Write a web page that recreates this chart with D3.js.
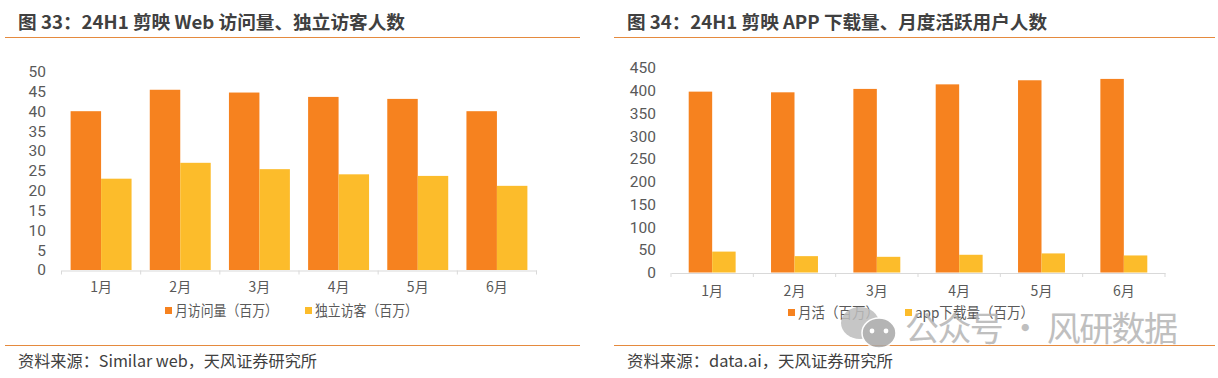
<!DOCTYPE html>
<html><head><meta charset="utf-8">
<script src="https://cdn.jsdelivr.net/npm/d3@7"></script>
<style>html,body{margin:0;padding:0;background:#fff}svg{display:block}
text{font-family:"Noto Sans CJK SC","Noto Sans",sans-serif}</style></head>
<body><svg id="c" width="1218" height="378"></svg>
<script>
const months=["1月","2月","3月","4月","5月","6月"];
const webVisits=[40,45.4,44.7,43.6,43.1,40];
const webUnique=[23,27,25.4,24.1,23.7,21.2];
const appMau=[398,396.5,404,414,423,426];
const appDownloads=[46,36,34.5,39,42,37.5];
const webTicks=[0,5,10,15,20,25,30,35,40,45,50];
const appTicks=[0,50,100,150,200,250,300,350,400,450];
const ORANGE="#F6821F",YELLOW="#FCBC2B",RULE="#E58A3E",TXT="#595959",HEAD="#404040";
const svg=d3.select("#c");

function panel(o){
  const g=svg.append("g");
  g.append("text").attr("x",o.titleX).attr("y",29).attr("font-size",18).attr("font-weight",700)
    .attr("fill",HEAD).attr("textLength",o.titleLen).attr("lengthAdjust","spacingAndGlyphs").text(o.title);
  [37.5,345.5].forEach(y=>g.append("line").attr("x1",o.ruleL).attr("x2",o.ruleR).attr("y1",y).attr("y2",y)
    .attr("stroke",RULE).attr("stroke-width",1));
  g.append("text").attr("x",o.titleX).attr("y",367).attr("font-size",16).attr("fill",HEAD)
    .attr("textLength",o.srcLen).attr("lengthAdjust","spacingAndGlyphs").text(o.source);

  const x=d3.scaleBand().domain(months).range(o.xr).paddingInner(o.pad).paddingOuter(o.pad/2);
  const inner=d3.scaleBand().domain([0,1]).range([0,x.bandwidth()]);
  const y=d3.scaleLinear().domain(o.dom).range(o.yr);
  [[o.a,ORANGE],[o.b,YELLOW]].forEach((s,k)=>{
    g.append("g").selectAll("rect").data(s[0]).join("rect")
      .attr("x",(d,i)=>x(months[i])+inner(k)).attr("width",inner.bandwidth())
      .attr("y",d=>y(d)).attr("height",d=>y(0)-y(d)).attr("fill",s[1]);
  });
  const ax=g.append("g").attr("transform",`translate(0,${o.yr[0]+0.5})`)
    .call(d3.axisBottom(x).tickSize(0).tickPadding(o.tickPad));
  ax.select(".domain").attr("stroke","#D9D9D9").attr("stroke-width",1);
  ax.selectAll("text").attr("font-size",14).attr("fill",TXT);
  const edges=d3.range(7).map(i=>o.xr[0]+i*(o.xr[1]-o.xr[0])/6);
  ax.selectAll("line.edge").data(edges).join("line").attr("class","edge")
    .attr("x1",d=>d).attr("x2",d=>d).attr("y1",0).attr("y2",4).attr("stroke","#D9D9D9");
  const ay=g.append("g").attr("transform",`translate(${o.labelX},0)`)
    .call(d3.axisLeft(y).tickValues(o.ticks).tickSize(0).tickPadding(0));
  ay.select(".domain").remove();
  ay.selectAll("text").attr("font-size",15.5).attr("fill",TXT).style("font-family","Roboto,'Liberation Sans',sans-serif");

  o.legend.forEach((l,i)=>{
    g.append("rect").attr("x",l.x).attr("y",o.legY).attr("width",7).attr("height",7).attr("fill",i?YELLOW:ORANGE);
    g.append("text").attr("x",l.x+10).attr("y",o.legY+9).attr("font-size",14.5).attr("fill",TXT)
      .attr("textLength",l.len).attr("lengthAdjust","spacingAndGlyphs").text(l.t);
  });
}

panel({title:"图 33：24H1 剪映 Web 访问量、独立访客人数",titleX:18,titleLen:387,ruleL:5,ruleR:580,
  source:"资料来源：Similar web，天风证券研究所",srcLen:299,tickPad:12,
  xr:[61.5,536.5],pad:0.23,yr:[270,71.5],dom:[0,50],ticks:webTicks,a:webVisits,b:webUnique,labelX:46,
  legY:307,legend:[{x:165,t:"月访问量（百万）",len:103},{x:305,t:"独立访客（百万）",len:103}]});

panel({title:"图 34：24H1 剪映 APP 下载量、月度活跃用户人数",titleX:627,titleLen:420,ruleL:614,ruleR:1215,
  source:"资料来源：data.ai，天风证券研究所",srcLen:266,tickPad:13,
  xr:[671,1165],pad:0.43,yr:[272.5,68],dom:[0,450],ticks:appTicks,a:appMau,b:appDownloads,labelX:656,
  legY:309,legend:[{x:788,t:"月活（百万）",len:81},{x:905,t:"app下载量（百万）",len:119}]});

// watermark
const wm=svg.append("g").attr("opacity",0.85);
wm.append("ellipse").attr("cx",860).attr("cy",323).attr("rx",19).attr("ry",16).attr("fill","#BDBDBD");
wm.append("ellipse").attr("cx",879).attr("cy",333).attr("rx",17).attr("ry",15).attr("fill","#A8A8A8").attr("stroke","#fff").attr("stroke-width",1.5);
[872,886].forEach(c=>wm.append("circle").attr("cx",c).attr("cy",331).attr("r",2.4).attr("fill","#fff"));
wm.append("text").attr("x",905).attr("y",341).attr("font-size",34).attr("fill","#B4B4B4")
  .attr("textLength",273).attr("lengthAdjust","spacing").text("公众号 · 风研数据");
</script></body></html>
